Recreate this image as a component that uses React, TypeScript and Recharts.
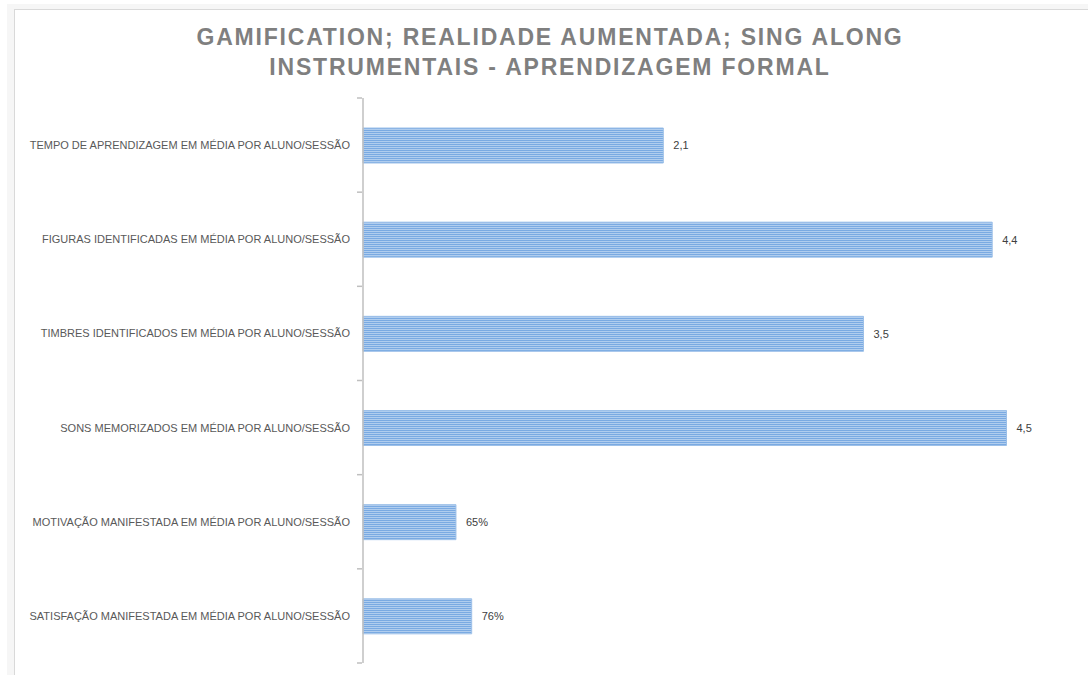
import { BarChart, Bar, XAxis, YAxis, LabelList } from 'recharts';

const categories = [
  'TEMPO DE APRENDIZAGEM EM MÉDIA POR ALUNO/SESSÃO',
  'FIGURAS IDENTIFICADAS EM MÉDIA POR ALUNO/SESSÃO',
  'TIMBRES IDENTIFICADOS EM MÉDIA POR ALUNO/SESSÃO',
  'SONS MEMORIZADOS EM MÉDIA POR ALUNO/SESSÃO',
  'MOTIVAÇÃO MANIFESTADA EM MÉDIA POR ALUNO/SESSÃO',
  'SATISFAÇÃO MANIFESTADA EM MÉDIA POR ALUNO/SESSÃO',
];
const values = [2.1, 4.4, 3.5, 4.5, 0.65, 0.76];
const valueLabels = ['2,1', '4,4', '3,5', '4,5', '65%', '76%'];
const titleLines = ['GAMIFICATION; REALIDADE AUMENTADA; SING ALONG', 'INSTRUMENTAIS - APRENDIZAGEM FORMAL'];

const data = categories.map((name, i) => ({ name, value: values[i], label: valueLabels[i] }));

const W = 1088;
const H = 675;
const AXIS_W = 363;
const TOP = 98;
const BOTTOM = 12;
const band = (H - TOP - BOTTOM) / categories.length;
const FONT = '"Liberation Sans", Arial, sans-serif';

function CategoryTick(props: any) {
  const { y, payload, index } = props;
  const ax = AXIS_W - 1;
  return (
    <g>
      <line x1={ax - 5} x2={ax} y1={y - band / 2} y2={y - band / 2} stroke="#bfbfbf" strokeWidth={1.5} />
      {index === categories.length - 1 && (
        <line x1={ax - 5} x2={ax} y1={y + band / 2} y2={y + band / 2} stroke="#bfbfbf" strokeWidth={1.5} />
      )}
      <text x={AXIS_W - 13} y={y} dy={4} textAnchor="end" fontSize={11} fill="#595959" fontFamily={FONT}>
        {payload.value}
      </text>
    </g>
  );
}

export default function App() {
  return (
    <div style={{ position: 'absolute', left: 0, top: 0, width: W, height: H, background: '#fff', overflow: 'hidden' }}>
      {/* frame of the cropped sheet */}
      <div style={{ position: 'absolute', left: 7, top: 4, right: 0, bottom: 0, background: '#f6f6f6' }} />
      <div
        style={{
          position: 'absolute', left: 14, top: 9, right: 0, bottom: 0, background: '#fff',
          borderLeft: '1.5px solid #d9d9d9', borderTop: '1.5px solid #d9d9d9',
        }}
      />
      <div
        style={{
          position: 'absolute', left: 6, top: 22, width: W, textAlign: 'center',
          fontFamily: FONT, fontWeight: 'bold', fontSize: 23, letterSpacing: 1.8,
          color: '#7f7f7f', lineHeight: '30px',
        }}
      >
        {titleLines.map((t) => (
          <div key={t}>{t}</div>
        ))}
      </div>
      <div style={{ position: 'absolute', left: 0, top: 0 }}>
        <BarChart
          layout="vertical"
          width={W}
          height={H}
          data={data}
          margin={{ top: TOP, right: 10, bottom: BOTTOM, left: 0 }}
        >
          <defs>
            <pattern id="stripes" patternUnits="userSpaceOnUse" width={6} height={2}>
              <rect width={6} height={2} fill="#b0cdee" />
              <rect width={6} height={1} fill="#7aaae2" />
            </pattern>
          </defs>
          <XAxis type="number" domain={[0, 5]} hide />
          <YAxis
            type="category"
            dataKey="name"
            width={AXIS_W}
            axisLine={{ stroke: '#bfbfbf', strokeWidth: 1.5 }}
            tickLine={false}
            tick={<CategoryTick />}
            interval={0}
          />
          <Bar dataKey="value" barSize={35} fill="url(#stripes)" stroke="#9dc0e8" strokeWidth={1} isAnimationActive={false}>
            <LabelList
              dataKey="label"
              position="right"
              offset={10}
              fontSize={11}
              fill="#404040"
              fontFamily={FONT}
            />
          </Bar>
        </BarChart>
      </div>
    </div>
  );
}
